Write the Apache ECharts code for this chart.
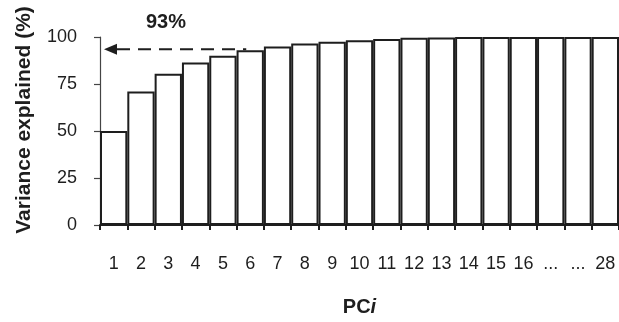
<!DOCTYPE html>
<html>
<head>
<meta charset="utf-8">
<script src="https://cdn.jsdelivr.net/npm/echarts@6/dist/echarts.min.js"></script>
<style>
  html, body { margin: 0; padding: 0; background: #fff; }
  #chart { width: 619px; height: 322px; }
</style>
</head>
<body>
<div id="chart"></div>
<script>
// Principal components shown on the x axis (the gap 17..27 is elided)
const components = ['1', '2', '3', '4', '5', '6', '7', '8', '9', '10', '11', '12', '13', '14', '15', '16', '...', '...', '28'];
// Cumulative variance explained (%)
const cumulativeVariance = [50, 71, 80.5, 86.5, 90, 93, 95, 96.5, 97.5, 98.3, 99, 99.6, 99.8, 100, 100, 100, 100, 100, 100];
// Highlighted threshold: component index and the level it reaches
const highlightIndex = 5;
const highlightValue = 93;
const highlightLabel = '93%';
const yTicks = { min: 0, max: 100, interval: 25 };

const ink = '#1e1e1e';
const font = 'Liberation Sans, Arial, Helvetica, sans-serif';

const chart = echarts.init(document.getElementById('chart'), null, { renderer: 'canvas' });

chart.setOption({
  animation: false,
  backgroundColor: '#fff',
  grid: { left: 100, top: 37, height: 195, width: 522.5 },
  xAxis: {
    type: 'category',
    data: components,
    boundaryGap: true,
    name: 'PC{i|i}',
    nameLocation: 'middle',
    nameGap: 72,
    nameTextStyle: {
      fontFamily: font, fontSize: 20, fontWeight: 'bold', color: ink,
      rich: { i: { fontFamily: font, fontSize: 20, fontWeight: 'bold', fontStyle: 'italic', color: ink } }
    },
    axisLine: { show: true, lineStyle: { color: ink, width: 2 } },
    axisTick: { show: true, inside: false, length: 5, alignWithLabel: false, lineStyle: { color: ink, width: 2 } },
    axisLabel: { interval: 0, margin: 30, fontFamily: font, fontSize: 18, color: ink },
    splitLine: { show: false }
  },
  yAxis: {
    type: 'value',
    min: yTicks.min,
    max: yTicks.max,
    interval: yTicks.interval,
    axisLine: { show: true, lineStyle: { color: '#444', width: 1.2 } },
    axisTick: { show: true, inside: false, length: 6, lineStyle: { color: '#444', width: 1.2 } },
    axisLabel: { margin: 23, fontFamily: font, fontSize: 18, color: ink },
    splitLine: { show: false }
  },
  series: [{
    type: 'bar',
    data: cumulativeVariance,
    barCategoryGap: 0,
    itemStyle: { color: '#fff', borderColor: ink, borderWidth: 2 },
    z: 1
  }]
});

// Dashed arrow from the highlighted bar back to the y axis, plus its label
const end = chart.convertToPixel({ gridIndex: 0 }, [highlightIndex, highlightValue]);
const axisX = chart.convertToPixel({ gridIndex: 0 }, [0, 0]);
const yAxisPx = axisX[0] - (chart.convertToPixel({ gridIndex: 0 }, [1, 0])[0] - axisX[0]) / 2;
const tipX = yAxisPx + 4;
const headLen = 13;
const y = end[1] - 1;

chart.setOption({
  graphic: [
    {
      type: 'line',
      shape: { x1: tipX + headLen, y1: y, x2: end[0] - 4, y2: y },
      style: { stroke: ink, lineWidth: 2, lineDash: [13, 8] },
      z: 10
    },
    {
      type: 'polygon',
      shape: { points: [[tipX, y], [tipX + headLen, y - 5.5], [tipX + headLen, y + 5.5]] },
      style: { fill: ink },
      z: 10
    },
    {
      type: 'text',
      x: 166, y: 22,
      style: {
        text: highlightLabel,
        fontFamily: font, fontSize: 20, fontWeight: 'bold', fill: ink,
        align: 'center', verticalAlign: 'middle'
      },
      z: 10
    },
    {
      type: 'text',
      x: 24, y: 120,
      rotation: Math.PI / 2,
      style: {
        text: 'Variance explained (%)',
        fontFamily: font, fontSize: 21, fontWeight: 'bold', fill: ink,
        align: 'center', verticalAlign: 'middle'
      },
      z: 10
    }
  ]
});
</script>
</body>
</html>
